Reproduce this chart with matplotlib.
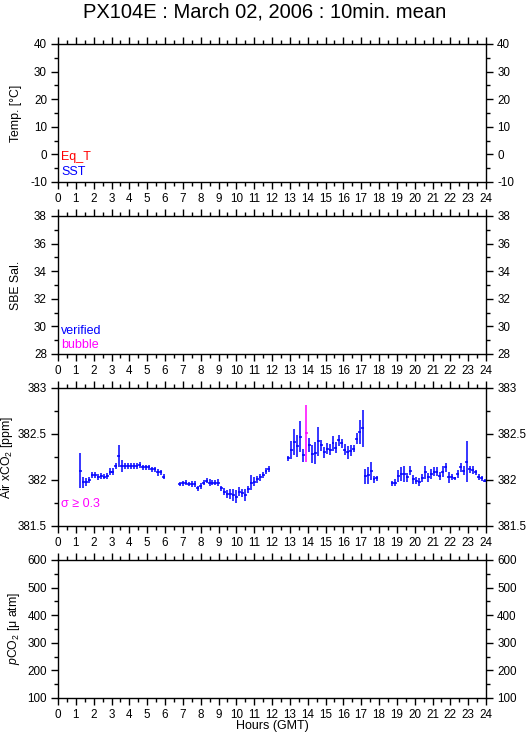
import numpy as np
import matplotlib
matplotlib.use("Agg")
import matplotlib.pyplot as plt
from matplotlib.ticker import MultipleLocator, FormatStrFormatter

plt.rcParams['font.family'] = ['Liberation Sans', 'DejaVu Sans']
plt.rcParams['mathtext.fontset'] = 'custom'
plt.rcParams['mathtext.rm'] = 'Liberation Sans'
plt.rcParams['mathtext.it'] = 'Liberation Sans:italic'

# ================================
# DATA  (10-min means of Air xCO2)
# ================================
title = "PX104E : March 02, 2006 : 10min. mean"
step = 1 / 6.0  # 10 minutes in hours

seg_start = [1.25, 6.83, 12.92, 17.22, 18.75]

seg1_val = [382.10, 381.978, 381.978, 382.00, 382.054, 382.054, 382.03, 382.043, 382.036, 382.043,
            382.09, 382.09, 382.152, 382.26, 382.152, 382.152, 382.152, 382.152, 382.152, 382.155,
            382.163, 382.138, 382.138, 382.138, 382.116, 382.116, 382.083, 382.083, 382.036]
seg1_err = [0.19, 0.06, 0.04, 0.03, 0.036, 0.036, 0.03, 0.036, 0.03, 0.03,
            0.036, 0.04, 0.03, 0.12, 0.07, 0.03, 0.03, 0.03, 0.03, 0.03,
            0.035, 0.03, 0.03, 0.03, 0.03, 0.03, 0.035, 0.03, 0.03]

seg2_val = [381.957, 381.964, 381.971, 381.957, 381.957, 381.957, 381.91, 381.935, 381.971, 381.993,
            381.971, 381.971, 381.971, 381.971, 381.91, 381.873, 381.848, 381.848, 381.837, 381.819,
            381.873, 381.86, 381.837, 381.899, 381.97, 381.98, 382.007, 382.03, 382.054, 382.098,
            382.12]
seg2_err = [0.02, 0.03, 0.03, 0.025, 0.03, 0.03, 0.03, 0.035, 0.03, 0.03,
            0.035, 0.03, 0.03, 0.04, 0.03, 0.04, 0.04, 0.05, 0.06, 0.07,
            0.05, 0.04, 0.06, 0.04, 0.08, 0.05, 0.04, 0.04, 0.03, 0.035, 0.03]

seg3_val = [382.236, 382.326, 382.41, 382.37, 382.47, 382.27, 382.507, 382.38, 382.28, 382.29,
            382.42, 382.38, 382.30, 382.34, 382.33, 382.40, 382.35, 382.43, 382.40, 382.33,
            382.30, 382.32, 382.34, 382.45, 382.525, 382.56]
seg3_err = [0.025, 0.10, 0.14, 0.12, 0.17, 0.07, 0.31, 0.08, 0.10, 0.12,
            0.16, 0.06, 0.06, 0.06, 0.06, 0.08, 0.06, 0.06, 0.05, 0.06,
            0.07, 0.06, 0.04, 0.06, 0.13, 0.20]

seg4_val = [382.04, 382.05, 382.10, 382.007, 382.018]
seg4_err = [0.08, 0.09, 0.10, 0.04, 0.03]

seg5_val = [381.964, 381.971, 382.043, 382.065, 382.065, 382.03, 382.10, 382.007, 381.993, 381.982,
            382.018, 382.083, 382.03, 382.065, 382.09, 382.09, 382.043, 382.09, 382.138, 382.03,
            382.03, 382.018, 382.065, 382.138, 382.10, 382.20, 382.116, 382.11, 382.083, 382.03,
            382.018, 381.993]
seg5_err = [0.03, 0.035, 0.07, 0.08, 0.09, 0.05, 0.05, 0.05, 0.035, 0.045,
            0.045, 0.07, 0.05, 0.05, 0.05, 0.05, 0.045, 0.06, 0.05, 0.06,
            0.03, 0.02, 0.045, 0.05, 0.05, 0.22, 0.035, 0.04, 0.03, 0.03,
            0.025, 0.02]

seg_vals = [seg1_val, seg2_val, seg3_val, seg4_val, seg5_val]
seg_errs = [seg1_err, seg2_err, seg3_err, seg4_err, seg5_err]

# ================================
# FIGURE
# ================================
W, H = 529, 739
fig = plt.figure(figsize=(W / 100, H / 100), dpi=100)

panel_tops = [44, 216, 388, 560]
ph = 138
left, right = 58, 486

ylims = [(-10, 40), (28, 38), (381.5, 383), (100, 600)]
ymaj = [10, 2, 0.5, 100]
ymin = [5, 1, 0.25, 50]
ylabels = ["Temp. [°C]", "SBE Sal.", "Air xCO$_2$ [ppm]", "$\\it{p}$CO$_2$ [μ atm]"]
ylabel_x = [22, 22, 15, 22]  # pixel column of the label centre

axes = []
for i, top in enumerate(panel_tops):
    ax = fig.add_axes([left / W, 1 - (top + ph) / H, (right - left) / W, ph / H])
    ax.set_xlim(0, 24)
    ax.set_ylim(*ylims[i])
    ax.xaxis.set_major_locator(MultipleLocator(1))
    ax.xaxis.set_minor_locator(MultipleLocator(0.5))
    ax.yaxis.set_major_locator(MultipleLocator(ymaj[i]))
    ax.yaxis.set_minor_locator(MultipleLocator(ymin[i]))
    ax.yaxis.set_major_formatter(FormatStrFormatter('%g'))
    ax.tick_params(which='both', direction='out', top=True, right=True,
                   labelright=True, labelsize=8.4, width=1, pad=3)
    ax.tick_params(which='major', length=5)
    ax.tick_params(which='minor', length=3)
    for s in ax.spines.values():
        s.set_linewidth(1)
    ax.set_ylabel(ylabels[i], fontsize=8.8)
    ax.yaxis.set_label_coords((ylabel_x[i] - left) / (right - left), 0.5)
    axes.append(ax)

fig.text(0.5, 1 - 12 / H, title, ha='center', va='center', fontsize=14.5)
axes[3].set_xlabel("Hours (GMT)", fontsize=9, labelpad=-1)

# legends inside panels
axes[0].text(0.008, 0.18, "Eq_T", color='red', fontsize=9, transform=axes[0].transAxes, va='center')
axes[0].text(0.008, 0.072, "SST", color='blue', fontsize=9, transform=axes[0].transAxes, va='center')
axes[1].text(0.008, 0.167, "verified", color='blue', fontsize=9, transform=axes[1].transAxes, va='center')
axes[1].text(0.008, 0.065, "bubble", color='magenta', fontsize=9, transform=axes[1].transAxes, va='center')
axes[2].text(0.008, 0.16, "σ ≥ 0.3", color='magenta', fontsize=9,
             transform=axes[2].transAxes, va='center')

# Air xCO2 error crosses
ax = axes[2]
for t0, vals, errs in zip(seg_start, seg_vals, seg_errs):
    t = t0 + np.arange(len(vals)) * step
    v = np.array(vals)
    e = np.array(errs)
    hi = e >= 0.3
    ax.errorbar(t[~hi], v[~hi], yerr=e[~hi], xerr=step / 2, fmt='none',
                ecolor='blue', elinewidth=1.1, capsize=0)
    if hi.any():
        ax.errorbar(t[hi], v[hi], yerr=e[hi], xerr=step / 2, fmt='none',
                    ecolor='magenta', elinewidth=1.1, capsize=0)

fig.savefig("out.png", dpi=100)
